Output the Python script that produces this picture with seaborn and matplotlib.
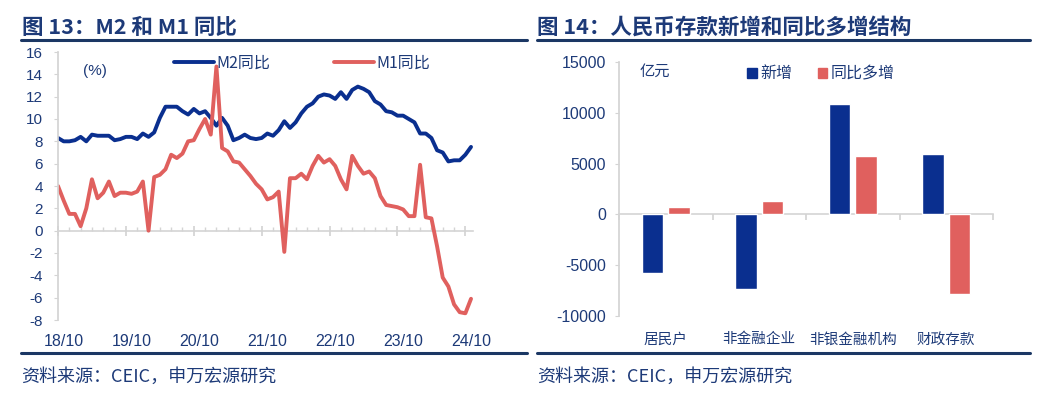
import numpy as np
import pandas as pd
import seaborn as sns
import matplotlib.pyplot as plt

sns.set_theme(style="white")
plt.rcParams['font.family'] = ['Liberation Sans', 'Noto Sans CJK SC', 'DejaVu Sans']
plt.rcParams['axes.unicode_minus'] = False
CJK = ['Noto Sans CJK SC', 'DejaVu Sans']

# ---- left chart data: M2 / M1 yoy (%), monthly 2018-09 .. 2024-10
months = pd.date_range("2018-09", "2024-10", freq="MS").strftime("%y/%m").tolist()
m2 = [8.3, 8.0, 8.0, 8.1,
      8.4, 8.0, 8.6, 8.5, 8.5, 8.5, 8.1, 8.2, 8.4, 8.4, 8.2, 8.7,
      8.4, 8.8, 10.1, 11.1, 11.1, 11.1, 10.7, 10.4, 10.9, 10.5, 10.7, 10.1,
      9.4, 10.1, 9.4, 8.1, 8.3, 8.6, 8.3, 8.2, 8.3, 8.7, 8.5, 9.0,
      9.8, 9.2, 9.7, 10.5, 11.1, 11.4, 12.0, 12.2, 12.1, 11.8, 12.4, 11.8,
      12.6, 12.9, 12.7, 12.4, 11.6, 11.3, 10.7, 10.6, 10.3, 10.3, 10.0, 9.7,
      8.7, 8.7, 8.3, 7.2, 7.0, 6.2, 6.3, 6.3, 6.8, 7.5]
m1 = [4.0, 2.7, 1.5, 1.5,
      0.4, 2.0, 4.6, 2.9, 3.4, 4.4, 3.1, 3.4, 3.4, 3.3, 3.5, 4.4,
      0.0, 4.8, 5.0, 5.5, 6.8, 6.5, 6.9, 8.0, 8.1, 9.1, 10.0, 8.6,
      14.7, 7.4, 7.1, 6.2, 6.1, 5.5, 4.9, 4.2, 3.7, 2.8, 3.0, 3.5,
      -1.9, 4.7, 4.7, 5.1, 4.6, 5.8, 6.7, 6.1, 6.4, 5.8, 4.6, 3.7,
      6.7, 5.8, 5.1, 5.3, 4.7, 3.1, 2.3, 2.2, 2.1, 1.9, 1.3, 1.3,
      5.9, 1.2, 1.1, -1.4, -4.2, -5.0, -6.6, -7.3, -7.4, -6.1]
series_names = ["M2同比", "M1同比"]

# ---- right chart data: deposits (100m yuan)
cats = ["居民户", "非金融企业", "非银金融机构", "财政存款"]
new_add = [-5770, -7390, 10850, 5970]
yoy_more = [700, 1360, 5740, -7850]
bar_names = ["新增", "同比多增"]

NAVY = "#0a2f8f"
RED = "#e0605e"
TXT = "#1d3a78"
GREY = "#d4d4d4"

fig = plt.figure(figsize=(10.63, 3.97), dpi=100)

# ================= left =================
ax1 = fig.add_axes([58 / 1063, 1 - 320 / 397, (473 - 58) / 1063, (320 - 52) / 397])
idx = np.arange(len(months))
df1 = pd.DataFrame({"idx": np.concatenate([idx, idx]),
                    "val": m2 + m1,
                    "s": [series_names[0]] * len(m2) + [series_names[1]] * len(m1)})
sns.lineplot(data=df1, x="idx", y="val", hue="s", palette=[NAVY, RED],
             linewidth=2.8, ax=ax1, legend=False)
ax1.set_xlim(0, len(months) - 1 + 0.35)
ax1.set_ylim(-8, 16)
ax1.set_yticks(np.arange(-8, 17, 2))
ax1.set_xlabel("")
ax1.set_ylabel("")
lab_pos = [i for i, m in enumerate(months) if m.endswith("/10")]
ax1.set_xticks(lab_pos)
ax1.set_xticklabels([months[i] for i in lab_pos])
ax1.tick_params(axis="x", length=0, pad=10, labelsize=11.5, labelcolor=TXT)
ax1.tick_params(axis="y", length=3, width=0.8, color=GREY, pad=8, labelsize=11, labelcolor=TXT, left=True)
for s in ["top", "right", "bottom"]:
    ax1.spines[s].set_visible(False)
ax1.spines["left"].set_color(GREY)
sec1 = ax1.secondary_xaxis(8 / 24)
sec1.set_xticks(np.arange(0, len(months), 12))
sec1.set_xticks(np.arange(0, len(months), 2), minor=True)
sec1.tick_params(which="major", direction="inout", length=7, color=GREY, labelbottom=False)
sec1.tick_params(which="minor", direction="in", length=3, color=GREY)
sec1.spines["bottom"].set_color(GREY)
sec1.spines["bottom"].set_linewidth(1.2)
ax1.text(0.06, 0.93, "(%)", transform=ax1.transAxes, color=TXT, fontsize=11, va="center")
h = [plt.Line2D([], [], color=NAVY, lw=2.8), plt.Line2D([], [], color=RED, lw=2.8)]
ax1.legend(h, series_names, loc="upper left", bbox_to_anchor=(0.245, 1.045), ncol=2,
           frameon=False, prop={"family": CJK, "size": 11.5}, labelcolor=TXT,
           handlelength=2.5, handletextpad=0.15, columnspacing=4.0)

# ================= right =================
ax2 = fig.add_axes([619 / 1063, 1 - 315.7 / 397, (993 - 619) / 1063, (315.7 - 62.3) / 397])
df2 = pd.DataFrame({"cat": cats * 2, "val": new_add + yoy_more,
                    "s": [bar_names[0]] * 4 + [bar_names[1]] * 4})
sns.barplot(data=df2, x="cat", y="val", hue="s", palette=[NAVY, RED],
            width=0.565, gap=0.2, ax=ax2, legend=False, saturation=1)
ax2.set_xlim(-0.5, 3.5)
ax2.set_ylim(-10000, 15000)
ax2.set_yticks(np.arange(-10000, 15001, 5000))
ax2.set_xlabel("")
ax2.set_ylabel("")
ax2.tick_params(axis="x", length=0, pad=12, labelsize=10.5, labelcolor=TXT)
for lab in ax2.get_xticklabels():
    lab.set_family(CJK)
ax2.tick_params(axis="y", length=3, width=0.8, color=GREY, pad=6.5, labelsize=11.5, labelcolor=TXT, left=True)
for s in ["top", "right", "bottom"]:
    ax2.spines[s].set_visible(False)
ax2.spines["left"].set_color(GREY)
sec2 = ax2.secondary_xaxis(10000 / 25000)
sec2.set_xticks(np.arange(-0.5, 3.6, 1))
sec2.tick_params(direction="out", length=4, color=GREY, labelbottom=False)
sec2.spines["bottom"].set_color(GREY)
sec2.spines["bottom"].set_linewidth(1.2)
ax2.text(0.055, 0.965, "亿元", transform=ax2.transAxes, color=TXT, fontsize=11,
         family=CJK, va="center")
hb = [plt.Rectangle((0, 0), 1, 1, color=NAVY), plt.Rectangle((0, 0), 1, 1, color=RED)]
ax2.legend(hb, bar_names, loc="upper left", bbox_to_anchor=(0.305, 1.045), ncol=2,
           frameon=False, prop={"family": CJK, "size": 11.5}, labelcolor=TXT,
           handlelength=0.6, handleheight=0.6, handletextpad=0.2, columnspacing=1.6)

# ================= titles / rules / sources =================
fig.text(22 / 1063, 1 - 27 / 397, "图 13：M2 和 M1 同比", fontsize=15.5, fontweight="bold",
         color=TXT, va="center", family=CJK)
fig.text(537 / 1063, 1 - 27 / 397, "图 14：人民币存款新增和同比多增结构", fontsize=15.5,
         fontweight="bold", color=TXT, va="center", family=CJK)
for x0, x1 in [(21, 527), (537, 1030)]:
    for y in [40, 353]:
        fig.add_artist(plt.Line2D([x0 / 1063, x1 / 1063], [1 - y / 397] * 2,
                                  color="#1b3764", lw=2.2))
    fig.text(x0 / 1063, 1 - 377 / 397, "资料来源：CEIC，申万宏源研究", fontsize=13,
             color=TXT, va="center", family=CJK)

fig.savefig("out.png", dpi=100, facecolor="white")
